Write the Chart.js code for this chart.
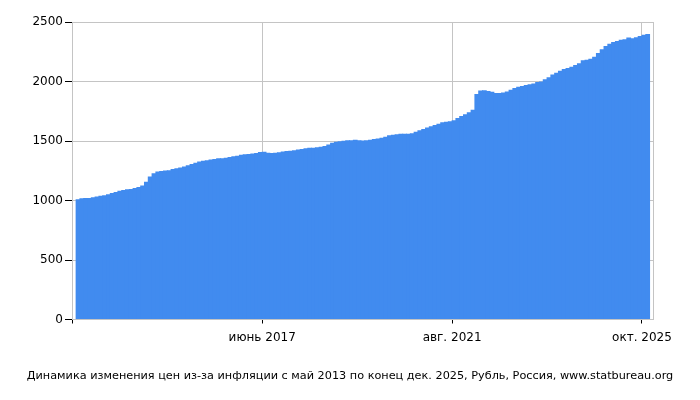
<!DOCTYPE html>
<html>
<head>
<meta charset="utf-8">
<script src="https://cdn.jsdelivr.net/npm/chart.js@4/dist/chart.umd.min.js"></script>
<style>
html,body{margin:0;padding:0;background:#fff}
#wrap{width:700px;height:400px}
</style>
</head>
<body>
<div id="wrap"><canvas id="c" width="700" height="400"></canvas></div>
<script>
// Monthly index values (rubles), May 2013 .. Nov 2025
const startYear = 2013;
const startMonth = 5;
const values = [
  1010,1018,1020,1022,1028,1033,1039,1045,1052,1063,1072,1082,1089,1094,1097,1104,1113,1127,1157,1201,
  1228,1243,1248,1253,1255,1265,1270,1277,1286,1296,1306,1318,1327,1333,1339,1344,1349,1356,1356,1359,
  1365,1371,1376,1385,1388,1390,1394,1399,1408,1409,1401,1399,1402,1405,1411,1415,1418,1422,1428,1433,
  1440,1444,1444,1447,1452,1459,1471,1486,1493,1497,1502,1507,1507,1510,1507,1504,1506,1511,1516,1522,
  1527,1536,1548,1553,1556,1561,1561,1560,1566,1577,1591,1601,1614,1624,1634,1646,1657,1662,1665,1675,
  1694,1710,1724,1741,1762,1896,1925,1927,1921,1913,1903,1904,1908,1915,1930,1946,1955,1962,1970,1976,
  1983,1995,2001,2018,2035,2058,2073,2091,2105,2113,2124,2139,2153,2178,2182,2192,2209,2240,2270,2298,
  2317,2332,2341,2351,2356,2369,2363,2371,2383,2393,2400
];
const months = values.map((v, i) => {
  const m = startMonth - 1 + i;
  return (startYear + Math.floor(m / 12)) + '-' + String(m % 12 + 1).padStart(2, '0');
});
const tickMonths = ['2017-06', '2021-08', '2025-10'];
const tickLabels = ['июнь 2017', 'авг. 2021', 'окт. 2025'];
const yTicks = [0, 500, 1000, 1500, 2000, 2500];
const caption = 'Динамика изменения цен из-за инфляции с май 2013 по конец дек. 2025, Рубль, Россия, www.statbureau.org';

const FONT = 'DejaVu Sans';
const GRID = '#c4c4c4';
const X_MIN = -1.08, X_MAX = 151.9;

new Chart(document.getElementById('c'), {
  type: 'bar',
  data: {
    datasets: [{
      data: values.map((v, i) => ({ x: i + 0.5, y: v })),
      backgroundColor: '#418bef',
      borderWidth: 0,
      barPercentage: 1.25,
      categoryPercentage: 1
    }]
  },
  options: {
    responsive: false,
    animation: false,
    devicePixelRatio: 1,
    layout: { padding: { top: 22, left: 0, right: 0, bottom: 0 } },
    plugins: {
      legend: { display: false },
      tooltip: { enabled: false },
      title: {
        display: true,
        position: 'bottom',
        text: caption,
        color: '#000',
        font: { family: FONT, size: 11.25, weight: 'normal' },
        padding: { top: 0, bottom: 17 }
      }
    },
    scales: {
      x: {
        type: 'linear',
        min: X_MIN,
        max: X_MAX,
        offset: false,
        afterBuildTicks: s => {
          s.ticks = [{ value: X_MIN }].concat(tickMonths.map(m => ({ value: months.indexOf(m) })));
        },
        ticks: {
          callback: (v, i) => i === 0 ? '' : tickLabels[i - 1],
          maxRotation: 0,
          autoSkip: false,
          padding: 7,
          color: '#000',
          font: { family: FONT, size: 12 }
        },
        grid: { offset: false, color: GRID, tickColor: '#000', tickLength: 4, lineWidth: 1 },
        border: { color: GRID },
        afterFit: s => { s.height = 50; }
      },
      y: {
        min: 0,
        max: 2500,
        afterBuildTicks: s => { s.ticks = yTicks.map(v => ({ value: v })); },
        ticks: { padding: 2, color: '#000', font: { family: FONT, size: 12 }, callback: v => String(v) },
        grid: { color: GRID, tickColor: '#000', tickLength: 7 },
        border: { color: GRID },
        afterFit: s => { s.width = 72; }
      },
      y2: {
        position: 'right',
        min: 0,
        max: 2500,
        ticks: { display: false },
        grid: { display: false },
        border: { display: true, color: GRID },
        afterFit: s => { s.width = 47; }
      }
    }
  }
});
</script>
</body>
</html>
